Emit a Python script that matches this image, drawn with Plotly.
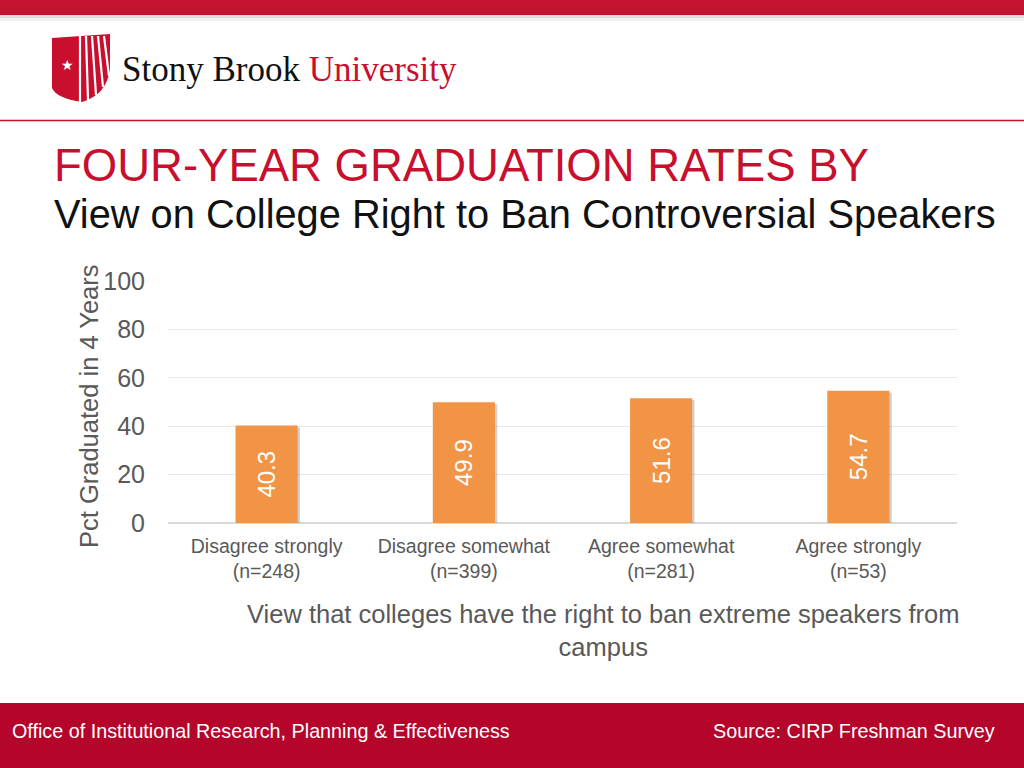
import plotly.graph_objects as go

categories = ["Disagree strongly<br>(n=248)", "Disagree somewhat<br>(n=399)",
              "Agree somewhat<br>(n=281)", "Agree strongly<br>(n=53)"]
values = [40.3, 49.9, 51.6, 54.7]
y_ticks = [0, 20, 40, 60, 80, 100]

W, H = 1024, 768
def px(x): return x / W
def py(y): return 1 - y / H

RED = "#C8102E"
ORANGE = "#F29446"
GRAY = "#595959"
FONT = "Liberation Sans, Arial, sans-serif"
BAR_W = 0.315

fig = go.Figure()
# soft drop shadow behind each bar
fig.add_trace(go.Bar(
    x=categories, y=values, base=[-0.8] * len(values), width=BAR_W,
    offset=-BAR_W / 2 + 0.012,
    marker=dict(color="rgba(0,0,0,0.18)", line=dict(width=0)),
    hoverinfo="skip",
))
fig.add_trace(go.Bar(
    x=categories, y=values, width=BAR_W, offset=-BAR_W / 2,
    marker=dict(color=ORANGE, line=dict(width=0)),
    text=[f"{v:.1f}" for v in values], textposition="inside",
    insidetextanchor="middle", textangle=-90,
    textfont=dict(color="white", size=24, family=FONT),
    hoverinfo="x+y",
))

shapes = [
    dict(type="rect", xref="paper", yref="paper", x0=0, x1=1, y0=py(15), y1=1,
         fillcolor="#C41230", line=dict(width=0), layer="below"),
    dict(type="rect", xref="paper", yref="paper", x0=0, x1=1, y0=py(18), y1=py(15),
         fillcolor="#DDDDDD", line=dict(width=0), layer="below"),
    dict(type="rect", xref="paper", yref="paper", x0=0, x1=1, y0=py(21), y1=py(18),
         fillcolor="#F0F0F0", line=dict(width=0), layer="below"),
    dict(type="line", xref="paper", yref="paper", x0=0, x1=1, y0=py(120.5), y1=py(120.5),
         line=dict(color=RED, width=1.5)),
    dict(type="rect", xref="paper", yref="paper", x0=0, x1=1, y0=0, y1=py(703),
         fillcolor="#B5052B", line=dict(width=0), layer="below"),
    dict(type="path", xref="paper", yref="paper",
         path=(f"M {px(52)},{py(38)} L {px(110)},{py(34)} L {px(110)},{py(70)} "
               f"Q {px(106)},{py(95)} {px(82)},{py(102)} "
               f"Q {px(56)},{py(98)} {px(52)},{py(88)} Z"),
         fillcolor=RED, line=dict(width=0)),
]
for x0, x1, y1 in [(80, 80, 102), (86, 88, 100), (92, 96, 95), (98, 103, 87), (104, 109, 76)]:
    shapes.append(dict(type="line", xref="paper", yref="paper",
                       x0=px(x0), x1=px(x1), y0=py(36), y1=py(y1),
                       line=dict(color="white", width=2.2)))

annotations = [
    dict(text="★", x=px(67), y=py(65), xref="paper", yref="paper", showarrow=False,
         font=dict(size=14, color="white", family="DejaVu Sans"), xanchor="center", yanchor="middle"),
    dict(text="Stony Brook <span style='color:#C8102E'>University</span>",
         x=px(120), y=py(69), xref="paper", yref="paper", showarrow=False,
         font=dict(size=35, color="#111111", family="Liberation Serif, Times New Roman, serif"),
         xanchor="left", yanchor="middle"),
    dict(text="FOUR-YEAR GRADUATION RATES BY", x=px(52), y=py(165), xref="paper", yref="paper",
         showarrow=False, font=dict(size=45.5, color=RED, family=FONT), xanchor="left", yanchor="middle"),
    dict(text="View on College Right to Ban Controversial Speakers", x=px(52), y=py(214),
         xref="paper", yref="paper", showarrow=False,
         font=dict(size=39.8, color="#111111", family=FONT), xanchor="left", yanchor="middle"),
    dict(text="Pct Graduated in 4 Years", x=px(89), y=py(406), xref="paper", yref="paper",
         showarrow=False, textangle=-90, font=dict(size=25.5, color=GRAY, family=FONT),
         xanchor="center", yanchor="middle"),
    dict(text="View that colleges have the right to ban extreme speakers from<br>campus",
         x=px(603), y=py(630), xref="paper", yref="paper", showarrow=False,
         font=dict(size=25.5, color=GRAY, family=FONT), xanchor="center", yanchor="middle"),
    dict(text="Office of Institutional Research, Planning & Effectiveness", x=px(10), y=py(731),
         xref="paper", yref="paper", showarrow=False,
         font=dict(size=19.75, color="white", family=FONT), xanchor="left", yanchor="middle"),
    dict(text="Source: CIRP Freshman Survey", x=px(997), y=py(731),
         xref="paper", yref="paper", showarrow=False,
         font=dict(size=19.75, color="white", family=FONT), xanchor="right", yanchor="middle"),
]

fig.update_layout(
    width=W, height=H, autosize=False,
    margin=dict(l=0, r=0, t=0, b=0, pad=0),
    paper_bgcolor="white", plot_bgcolor="white",
    showlegend=False, barmode="overlay",
    shapes=shapes, annotations=annotations,
    font=dict(family=FONT, color=GRAY),
    xaxis=dict(domain=[px(168), px(957)], showgrid=False, showline=False, zeroline=False,
               ticks="", tickfont=dict(size=19.5, color=GRAY), ticklabelstandoff=9,
               automargin=False, fixedrange=True),
    yaxis=dict(domain=[py(523), py(281)], range=[0, 100], tickvals=y_ticks,
               showgrid=True, gridcolor="#E8E8E8", gridwidth=1,
               zeroline=True, zerolinecolor="#D9D9D9", zerolinewidth=1.5,
               showline=False, ticks="", tickfont=dict(size=25, color=GRAY),
               ticklabelstandoff=22, automargin=False, fixedrange=True),
)

fig.write_html("out.html", config={"responsive": False, "displayModeBar": False},
               post_script="document.body.style.margin='0';document.body.style.overflow='hidden';")
